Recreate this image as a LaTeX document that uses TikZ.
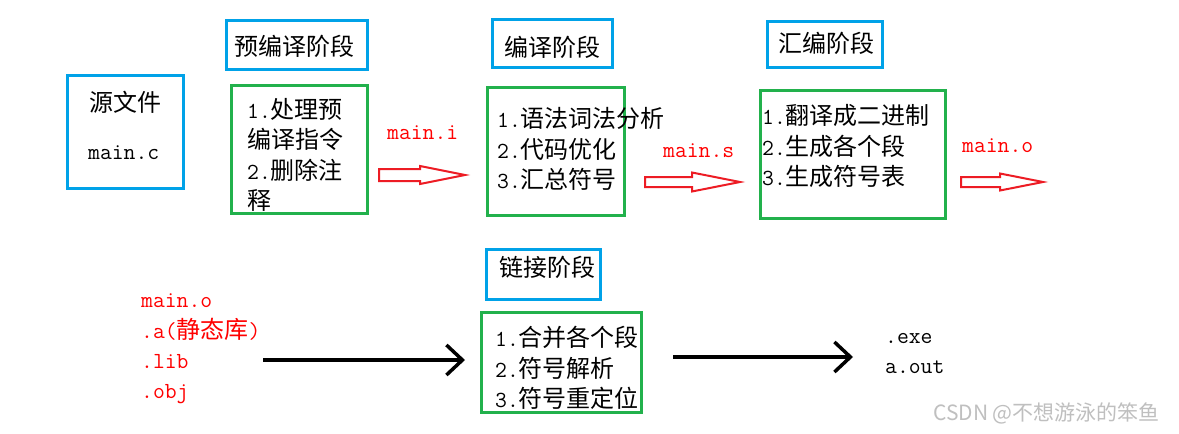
\documentclass[tikz,border=0pt]{standalone}
\usepackage{fontspec}
\newfontfamily\cjk{Noto Sans CJK SC}
\newfontfamily\wmfont{Noto Sans CJK SC}
\usetikzlibrary{arrows.meta}
\newcommand\zh[1]{{\fontsize{24}{30}\selectfont\cjk #1}}
\definecolor{boxblue}{HTML}{00A2E8}
\definecolor{boxgreen}{HTML}{22B14C}
\definecolor{arrred}{HTML}{ED1C24}
\newcommand\blockarrow[6]{% x1 x2 xhead y shafthalf headhalf
  \draw[redarr] (#1,#4-#5) -- (#3,#4-#5) -- (#3,#4-#6) -- (#2,#4) -- (#3,#4+#6) -- (#3,#4+#5) -- (#1,#4+#5) -- cycle;}
\begin{document}
\begin{tikzpicture}[x=1pt,y=-1pt,
  bbox/.style={draw=boxblue, line width=3pt, inner sep=0pt, rectangle},
  gbox/.style={draw=boxgreen, line width=3pt, inner sep=0pt, rectangle},
  txt/.style={inner sep=0pt, font=\fontsize{23}{30}\selectfont\ttfamily},
  ln/.style={txt, anchor=west},
  lat/.style={txt, anchor=base west},
  redt/.style={lat, text=red},
  redarr/.style={draw=arrred, line width=2pt, line join=miter},
  blackarr/.style={draw=black, line width=3.5pt, -{Straight Barb[length=16pt,width=30pt,line width=3.5pt]}},
  wm/.style={inner sep=0pt, anchor=base west, text=black!25, font=\wmfont\fontsize{21}{24}\selectfont}]
\useasboundingbox[fill=white] (0,0) rectangle (1179,434);

% boxes
\node[bbox, minimum width=116pt, minimum height=113pt] (src) at (125,131.5) {};
\node[bbox, minimum width=141pt, minimum height=49pt] (pret) at (296.5,44.5) {};
\node[gbox, minimum width=136pt, minimum height=128pt] (g1) at (299,149) {};
\node[bbox, minimum width=120pt, minimum height=48pt] (compt) at (552,43) {};
\node[gbox, minimum width=137pt, minimum height=128pt] (g2) at (555.5,151) {};
\node[bbox, minimum width=115pt, minimum height=46pt] (asmt) at (824.5,44) {};
\node[gbox, minimum width=185pt, minimum height=128pt] (g3) at (852.5,154) {};
\node[bbox, minimum width=114pt, minimum height=50pt] (linkt) at (543,274) {};
\node[gbox, minimum width=160pt, minimum height=100pt] (g4) at (561,362) {};

% titles
\node[txt] (srcname) at (125,102) {\zh{源文件}};
\node[lat] (srcfile) at (88,159) {main.c};
\node[txt] (pretxt) at (294,46) {\zh{预编译阶段}};
\node[txt] (comptxt) at (552,47) {\zh{编译阶段}};
\node[txt] (asmtxt) at (826,43) {\zh{汇编阶段}};
\node[txt] (linktxt) at (547,267) {\zh{链接阶段}};

% box contents
\node[ln] (g1a) at (247,109) {1.\zh{处理预}};
\node[ln] (g1b) at (247,139) {\zh{编译指令}};
\node[ln] (g1c) at (247,170) {2.\zh{删除注}};
\node[ln] (g1d) at (247,200) {\zh{释}};

\node[ln] (g2a) at (497,118) {1.\zh{语法词法分析}};
\node[ln] (g2b) at (497,149) {2.\zh{代码优化}};
\node[ln] (g2c) at (497,179) {3.\zh{汇总符号}};

\node[ln] (g3a) at (762,115) {1.\zh{翻译成二进制}};
\node[ln] (g3b) at (762,146) {2.\zh{生成各个段}};
\node[ln] (g3c) at (762,176) {3.\zh{生成符号表}};

\node[ln] (g4a) at (495,337) {1.\zh{合并各个段}};
\node[ln] (g4b) at (495,368) {2.\zh{符号解析}};
\node[ln] (g4c) at (495,398) {3.\zh{符号重定位}};

% red file labels
\node[redt] (fi) at (387,139) {main.i};
\node[redt] (fs) at (663,157) {main.s};
\node[redt] (fo) at (962,152) {main.o};

\node[redt] (in1) at (141,307) {main.o};
\node[redt] (in2) at (141,338) {.a(\zh{静态库})};
\node[redt] (in3) at (141,368) {.lib};
\node[redt] (in4) at (141,398) {.obj};

\node[lat] (out1) at (885,343) {.exe};
\node[lat] (out2) at (885,373) {a.out};

% red block arrows
\blockarrow{379}{465}{420}{175}{6}{9}
\blockarrow{645}{740}{692}{182}{5}{9.5}
\blockarrow{961}{1043}{1000}{182}{5}{8.5}

% black arrows
\coordinate (la1) at (263,360);
\coordinate (la2) at (465,360);
\coordinate (lb1) at (673,357);
\coordinate (lb2) at (853,357);
\draw[blackarr] (la1) -- (la2);
\draw[blackarr] (lb1) -- (lb2);

% watermark
\node[wm] (wmk) at (933,420) {CSDN @不想游泳的笨鱼};
\end{tikzpicture}
\end{document}
